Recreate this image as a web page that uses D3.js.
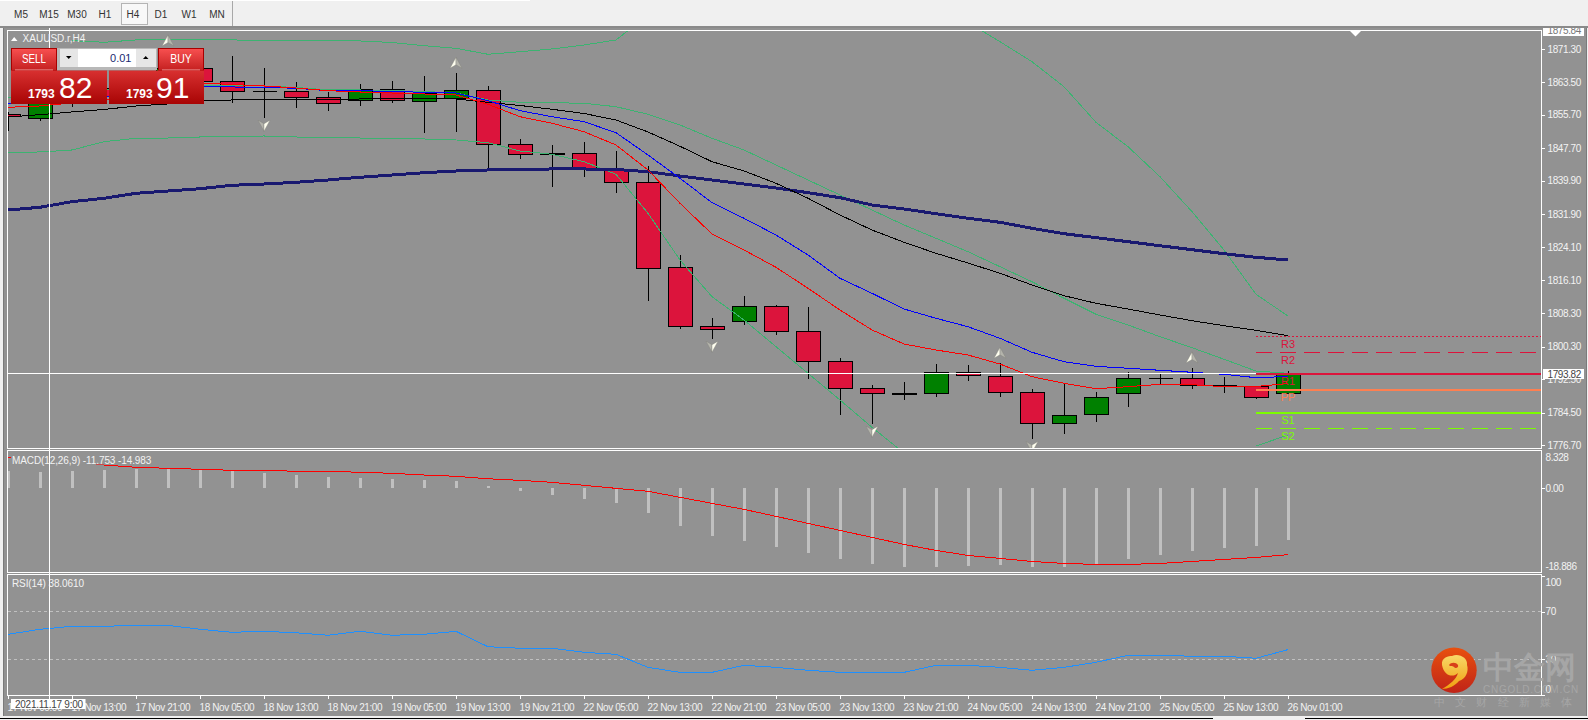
<!DOCTYPE html>
<html><head><meta charset="utf-8">
<script src="https://cdn.jsdelivr.net/npm/d3@7/dist/d3.min.js"></script>
<style>
html,body{margin:0;padding:0;background:#f0f0f0;overflow:hidden}
svg{display:block}
text{font-family:"Liberation Sans",Arial,sans-serif}
.axt text{font-size:10px;letter-spacing:-.4px;fill:#f2f2f2}
</style></head><body>
<svg id="c" width="1588" height="720"></svg>
<script>
// ---------- DATA ----------
const opens=[1855.77,1854.82,1858.5,1862,1860,1864,1866.77,1863.66,1861.27,1861.27,1859.84,1859.12,1861.75,1858.88,1859.6,1861.51,1848.61,1846.39,1846.46,1842.3,1839.53,1819.22,1805.13,1806.32,1809.91,1803.93,1796.77,1790.32,1789.13,1789.12,1794.14,1793.18,1789.36,1781.96,1784.11,1789.12,1792.71,1792.71,1790.94,1790.8,1789.12];
const highs=[1856.3,1859.2,1862.8,1863.4,1864.8,1870.9,1868.75,1869.7,1866.77,1863.42,1861.03,1863.01,1863.73,1864.93,1865.57,1862.54,1849.88,1848.44,1849.16,1847.01,1843.35,1822.16,1807.11,1812.37,1810.22,1809.74,1797.48,1791.11,1791.82,1796.12,1795.88,1796.29,1790.08,1791.34,1789.43,1794.21,1793.9,1795.17,1793.02,1790.8,1794.38];
const lows=[1851.86,1854.1,1857.5,1859,1859.2,1863,1862.78,1858.55,1854.96,1857.35,1856.64,1857.76,1858.55,1851.38,1851.55,1842.47,1845.17,1838.48,1840.87,1837.05,1811.24,1804.56,1802.17,1805.51,1803.12,1792.61,1784.01,1781.86,1787.52,1788.31,1792.13,1788.31,1778.21,1779.47,1782.34,1785.92,1791.27,1790.22,1789.27,1787.83,1789.12];
const closes=[1855.13,1858.47,1862,1860,1864,1866.77,1863.56,1861.27,1861.27,1859.84,1858.4,1861.75,1859.12,1860.63,1861.51,1848.61,1846.22,1846.19,1842.47,1839.53,1818.99,1805.13,1804.41,1809.91,1803.93,1796.77,1790.32,1789.12,1788.93,1794.14,1793.42,1789.36,1781.96,1783.87,1788.17,1792.71,1792.71,1791.03,1790.94,1788.17,1793.82];

const navyMA=[1832.91,1833.56,1834.9,1835.71,1836.9,1837.45,1838,1838.81,1839.12,1839.53,1840.08,1840.73,1841.27,1841.82,1842.23,1842.47,1842.64,1842.71,1842.71,1842.59,1842.06,1841.04,1840.08,1839.12,1838.17,1837.05,1835.85,1834.11,1833.15,1832.03,1830.93,1829.97,1828.54,1827.25,1826.3,1825.34,1824.38,1823.43,1822.47,1821.61,1820.97];
const blackMA=[1855.13,1855.68,1856.33,1856.92,1857.76,1858.24,1859.07,1859.19,1859.19,1859.19,1859.31,1859.43,1859.43,1859.43,1859.43,1858.64,1857.88,1856.97,1855.97,1854.41,1851.55,1848.13,1844.45,1842.23,1839.29,1835.71,1831.72,1828.13,1825.2,1822.57,1820.25,1817.79,1815,1812.44,1810.62,1809.26,1807.83,1806.47,1805.27,1804.17,1802.88];
const blueMA=[1858.24,1858.71,1859.19,1859.91,1860.63,1861.34,1862.3,1862.3,1862.23,1861.99,1861.41,1861.41,1861.22,1861.03,1860.86,1859.03,1856.64,1855.2,1854.01,1851.38,1846.05,1840.49,1834.66,1830.93,1826.94,1822.16,1816.6,1813.01,1809.26,1807.04,1805.03,1802.26,1798.92,1796.67,1795.57,1795.1,1794.62,1794.14,1793.66,1792.85,1793.14];
const redMA=[1857.45,1857.76,1858.48,1859.19,1859.91,1860.86,1863.25,1862.9,1862.54,1862.06,1861.41,1861.1,1860.86,1860.63,1860.39,1858.16,1855.2,1853.63,1851.62,1848.44,1842.47,1834.51,1827.18,1823.36,1819.22,1814.21,1809.02,1804.25,1800.9,1799.47,1798.27,1796.12,1793.09,1791.51,1790.22,1790.7,1791.27,1791.18,1790.7,1790.75,1791.46];
const bandUpper=[1859.67,1859.91,1861.1,1861.58,1861.58,1862.06,1862.78,1862.66,1862.54,1862.18,1861.58,1861.58,1861.41,1861.22,1860.86,1859.19,1858.64,1858.55,1858.4,1857.59,1855.78,1853.22,1850.04,1847.25,1843.66,1840.08,1836.5,1832.91,1829.33,1826.15,1822.95,1819.37,1815.78,1811.82,1808,1805.44,1802.64,1800.02,1797.25,1794.45,1793.9];
const bandLower=[1846.7,1846.77,1847.25,1849.23,1850.04,1850.11,1850.35,1850.47,1850.59,1850.35,1850.23,1850.11,1850.04,1849.88,1849.64,1848.99,1847.01,1846.22,1844.45,1841.44,1832.12,1820.97,1812.2,1806.63,1800.26,1793.9,1787.52,1781,1774.86,null,null,null,null,null,null,null,null,null,null,1776.53,1779.16];
const bandOuter=[null,null,1873.36,1872.98,1873.53,1873.53,1873.53,1873.53,1873.45,1873.41,1873.36,1873.29,1872.93,1872.16,1871.54,1870.11,1870.73,1871.38,1872.33,1873.53,1879.5,null,null,null,null,null,null,null,null,null,1877.73,1873.12,1868.34,1862.37,1853.86,1848.04,1840.87,1832.51,1823.36,1812.77,1807.59];

const macdHist=[3.76,3.54,3.83,4.05,4.28,4.28,4.05,3.83,3.38,2.93,2.48,2.25,2.03,1.8,1.58,.45,-.68,-1.58,-2.48,-3.38,-5.63,-8.56,-10.81,-11.94,-13.29,-14.64,-15.99,-17.12,-17.79,-17.79,-17.57,-17.34,-17.79,-17.79,-17.12,-15.99,-15.09,-14.19,-13.51,-13.06,-11.753];
const macdSignal=[6.98,6.53,6.08,5.18,4.66,4.44,4.21,3.99,3.99,3.76,3.76,3.54,3.31,2.93,2.64,2.09,1.73,1.28,.61,-.07,-.74,-2.09,-3.45,-4.8,-6.37,-7.95,-9.53,-11.1,-12.68,-14.03,-15.16,-15.83,-16.51,-16.96,-17.18,-17.18,-16.96,-16.51,-16.06,-15.61,-14.983];
const rsiValues=[50.9,55.1,57.6,57.6,58.4,58.4,55.1,52.6,53.4,52.2,50.1,53.4,50.1,50.9,53.4,40.5,39.2,39.2,35.8,34.1,23.2,19,19,24.9,23.2,20.7,19,19,19,24.9,24.9,23.2,20.7,23.2,27.4,33.3,33.3,32.5,32.5,30.8,38.06];

const fractalUp=[5,14,31,37];
const fractalDown=[8,22,27,32];
const pivotNames=["R3","R2","R1","PP","S1","S2"];
const pivotPrices=[1802.81,1798.92,1793.82,1789.91,1784.49,1780.76];
const pivotColors=["#dc143c","#dc143c","#dc143c","#ff7f50","#7cfc00","#7cfc00"];
const pivotDash=["2,2","16,8",null,null,null,"16,8"];
const pivotWidth=[1,1,2,2,2,1];

const priceTicks=[1871.3,1863.5,1855.7,1847.7,1839.9,1831.9,1824.1,1816.1,1808.3,1800.3,1792.5,1784.5,1776.7];
const macdTicks=[8.328,0,-18.886];
const macdTickLabels=["8.328","0.00","-18.886"];
const rsiTicks=[100,70,30,0];
const rsiLevels=[70,30];
const timeLabels=["17 Nov 05:00","17 Nov 13:00","17 Nov 21:00","18 Nov 05:00","18 Nov 13:00","18 Nov 21:00","19 Nov 05:00","19 Nov 13:00","19 Nov 21:00","22 Nov 05:00","22 Nov 13:00","22 Nov 21:00","23 Nov 05:00","23 Nov 13:00","23 Nov 21:00","24 Nov 05:00","24 Nov 13:00","24 Nov 21:00","25 Nov 05:00","25 Nov 13:00","26 Nov 01:00"];
const timeframes=["M5","M15","M30","H1","H4","D1","W1","MN"];
const currentPrice=1793.82, topPrice=1875.84, cursorIndex=1.31;

// ---------- SCALES ----------
const svg=d3.select("#c");
const L=7.5,R=1541.5;
const x=d3.scaleLinear().domain([0,40]).range([8,1288]);
const yP=d3.scaleLinear().domain([1776.7,1871.3]).range([445.3,49.3]);
const yM=d3.scaleLinear().domain([8.328,-18.886]).range([451,572]);
const yR=d3.scaleLinear().domain([0,100]).range([695,575.75]);
const crisp=v=>Math.round(v-.5)+.5;

// ---------- FRAME ----------
svg.append("rect").attr("width",1588).attr("height",720).attr("fill","#f0f0f0");
svg.append("rect").attr("x",4).attr("y",28).attr("width",1582).attr("height",688).attr("fill","#929292");
svg.append("rect").attr("x",3).attr("y",28).attr("width",1).attr("height",688).attr("fill","#7a7a7a");
svg.append("rect").attr("x",1586).attr("y",28).attr("width",1).attr("height",688).attr("fill","#7a7a7a");
svg.append("rect").attr("y",0).attr("width",530).attr("height",1).attr("fill","#fff");
const defs=svg.append("defs");
[["cMain",30,418],["cMacd",451,121],["cRsi",575,120]].forEach(([id,t,h])=>
  defs.append("clipPath").attr("id",id).append("rect").attr("x",8).attr("y",t).attr("width",1533).attr("height",h));
function grad(id,stops){const g=defs.append("linearGradient").attr("id",id).attr("x1",0).attr("y1",0).attr("x2",0).attr("y2",1);
  stops.forEach(([o,c])=>g.append("stop").attr("offset",o).attr("stop-color",c));}
grad("gBtn",[[0,"#f85050"],[1,"#c42020"]]);
grad("gPrice",[[0,"#d83030"],[1,"#a80404"]]);
grad("gLogo",[[0,"#e8500f"],[1,"#c02418"]]);
grad("gSwirl",[[0,"#f8d868"],[1,"#f0a010"]]);

// ---------- MAIN PANEL ----------
const main=svg.append("g").attr("clip-path","url(#cMain)");
const idx=d3.range(opens.length);
const candle=main.append("g").attr("shape-rendering","crispEdges");
candle.selectAll("line").data(idx).join("line")
 .attr("x1",i=>x(i)+.5).attr("x2",i=>x(i)+.5)
 .attr("y1",i=>yP(highs[i])).attr("y2",i=>yP(lows[i])).attr("stroke","#000");
candle.selectAll("path").data(idx).join("path")
 .attr("d",i=>{const a=crisp(yP(Math.max(opens[i],closes[i]))),b=crisp(yP(Math.min(opens[i],closes[i])));
   return `M${x(i)-11.5},${a}H${x(i)+12.5}V${b}H${x(i)-11.5}Z`;})
 .attr("fill",i=>closes[i]>=opens[i]?"#008000":"#dc143c").attr("stroke","#000");

const line=d3.line().defined(d=>d!=null).x((d,i)=>x(i)).y(d=>yP(d));
[[bandOuter,"#3cb371",1],[bandUpper,"#3cb371",1],[bandLower,"#3cb371",1],[navyMA,"#191970",3],[blackMA,"#000",1],[blueMA,"#0000ff",1],[redMA,"#ff0000",1]]
 .forEach(([d,c,w])=>main.append("path").attr("d",line(d)).attr("fill","none").attr("stroke",c).attr("stroke-width",w).attr("shape-rendering","crispEdges"));

// fractal arrows
function arrow(g,i,yy,up){const s=up?1:-1,cx=x(i);
  const a=g.append("g").attr("transform",`translate(${cx},${yy}) scale(1,${s})`);
  a.append("path").attr("d","M0,-6L-6,5L0,1.5Z").attr("fill",up?"#fffff0":"#b4b4ac").attr("stroke","#808078").attr("stroke-width",.4);
  a.append("path").attr("d","M0,-6L6,5L0,1.5Z").attr("fill",up?"#b4b4ac":"#fffff0").attr("stroke","#808078").attr("stroke-width",.4);}
fractalUp.forEach(i=>arrow(main,i,yP(highs[i])-10,true));
fractalDown.forEach(i=>arrow(main,i,yP(lows[i])+7.5,false));

// pivots
pivotNames.forEach((n,k)=>{const v=yP(pivotPrices[k]),yy=pivotWidth[k]==2?Math.round(v):crisp(v);
  main.append("line").attr("x1",x(39)).attr("x2",R).attr("y1",yy).attr("y2",yy)
   .attr("stroke",pivotColors[k]).attr("stroke-width",pivotWidth[k]).attr("stroke-dasharray",pivotDash[k]).attr("shape-rendering","crispEdges");
  main.append("text").attr("x",x(40)).attr("y",yy+11).attr("text-anchor","middle").attr("font-size",11)
   .attr("fill",pivotColors[k]).text(n);});

// ---------- MACD ----------
const macd=svg.append("g").attr("clip-path","url(#cMacd)");
macd.selectAll("rect").data(macdHist).join("rect")
 .attr("x",(d,i)=>x(i)-1).attr("width",3).attr("y",d=>Math.min(yM(d),yM(0))).attr("height",d=>Math.abs(yM(d)-yM(0)))
 .attr("fill","#c0c0c0").attr("shape-rendering","crispEdges");
macd.append("path").attr("d",d3.line().x((d,i)=>x(i)).y(d=>yM(d))(macdSignal)).attr("fill","none").attr("stroke","#ff0000").attr("shape-rendering","crispEdges");
svg.append("rect").attr("x",11).attr("y",455).attr("width",135).attr("height",9.5).attr("fill","#929292");
svg.append("text").attr("x",12).attr("y",463.5).attr("font-size",10).attr("letter-spacing","-.1").attr("fill","#f2f2f2").text("MACD(12,26,9) -11.753 -14.983");

// ---------- RSI ----------
const rsi=svg.append("g").attr("clip-path","url(#cRsi)");
rsiLevels.forEach(v=>rsi.append("line").attr("x1",8).attr("x2",R).attr("y1",crisp(yR(v))).attr("y2",crisp(yR(v)))
  .attr("stroke","#c0c0c0").attr("stroke-dasharray","3,3").attr("shape-rendering","crispEdges"));
rsi.append("path").attr("d",d3.line().x((d,i)=>x(i)).y(d=>yR(d))(rsiValues)).attr("fill","none").attr("stroke","#1e90ff").attr("shape-rendering","crispEdges");
svg.append("text").attr("x",12).attr("y",586.8).attr("font-size",10).attr("letter-spacing","-.1").attr("fill","#f2f2f2").text("RSI(14) 38.0610");

// ---------- BORDERS ----------
const border=svg.append("g").attr("stroke","#fff").attr("fill","none").attr("shape-rendering","crispEdges");
[[30.5,448.5],[450.5,572.5],[574.5,695.5]].forEach(([t,b])=>border.append("rect").attr("x",L).attr("y",t).attr("width",R-L).attr("height",b-t));

// ---------- AXES ----------
function styleAxis(g){g.attr("class","axt");g.select(".domain").remove();g.selectAll("line").attr("stroke","#fff").attr("shape-rendering","crispEdges");}
const ap=svg.append("g").attr("transform",`translate(${R},0)`).call(d3.axisRight(yP).tickValues(priceTicks).tickSize(3).tickPadding(3).tickFormat(d3.format(".2f")));
styleAxis(ap);
const am=svg.append("g").attr("transform",`translate(${R},0)`).call(d3.axisRight(yM).tickValues(macdTicks).tickSize(3).tickPadding(1).tickFormat((d,i)=>macdTickLabels[i]));
styleAxis(am);
am.selectAll("text").attr("dy",(d,i)=>i==0?"0.95em":i==2?"-0.25em":"0.32em");
am.selectAll("line").filter((d,i)=>i!=1).remove();
const ar=svg.append("g").attr("transform",`translate(${R},0)`).call(d3.axisRight(yR).tickValues(rsiTicks).tickSize(3).tickPadding(1));
styleAxis(ar);
ar.selectAll("text").attr("dy",d=>d==100?"0.95em":d==0?"-0.3em":"0.32em");
const ax=svg.append("g").attr("transform","translate(0,695.5)").call(d3.axisBottom(x).tickValues(d3.range(0,41,2)).tickSize(3).tickPadding(5).tickFormat((d,i)=>timeLabels[i]));
styleAxis(ax);
ax.selectAll("text").attr("text-anchor","start").attr("x",-1).attr("letter-spacing","-.1");

// ---------- CROSSHAIR ----------
const cross=svg.append("g").attr("stroke","#fff").attr("shape-rendering","crispEdges");
cross.append("line").attr("x1",crisp(x(cursorIndex))).attr("x2",crisp(x(cursorIndex))).attr("y1",28).attr("y2",699);
cross.append("line").attr("x1",L).attr("x2",x(39)).attr("y1",crisp(yP(currentPrice))).attr("y2",crisp(yP(currentPrice)));
svg.append("rect").attr("x",11).attr("y",699).attr("width",74.5).attr("height",10).attr("fill","#fff");
svg.append("text").attr("x",15).attr("y",708).attr("font-size",10).attr("letter-spacing","-.25").attr("fill","#444").text("2021.11.17 9:00");
svg.append("rect").attr("x",1543).attr("y",369).attr("width",41).attr("height",10).attr("fill","#fff");
svg.append("text").attr("x",1547.5).attr("y",378).attr("font-size",10).attr("letter-spacing","-.4").attr("fill","#444").text(d3.format(".2f")(currentPrice));
svg.append("rect").attr("x",1543).attr("y",28).attr("width",41).attr("height",8).attr("fill","#fff");
svg.append("text").attr("x",1547.5).attr("y",34).attr("font-size",10).attr("letter-spacing","-.4").attr("fill","#777").text(d3.format(".2f")(topPrice));
svg.append("path").attr("d","M1350,31H1361L1355.5,36.5Z").attr("fill","#fff");

// symbol label
svg.append("path").attr("d","M11,41L14.2,37L17.5,41Z").attr("fill","#fff");
svg.append("text").attr("x",22.6).attr("y",42).attr("font-size",10).attr("fill","#f2f2f2").text("XAUUSD.r,H4");

// ---------- TRADE PANEL ----------
const tp=svg.append("g");
tp.append("rect").attr("x",57).attr("y",48).attr("width",100).attr("height",22).attr("fill","#b8b8b8");
tp.append("rect").attr("x",60).attr("y",49).attr("width",18).attr("height",18).attr("fill","#e6e6e6");
tp.append("rect").attr("x",78).attr("y",49).attr("width",58).attr("height",18).attr("fill","#fff");
tp.append("rect").attr("x",136).attr("y",49).attr("width",20).attr("height",18).attr("fill","#e6e6e6");
tp.append("path").attr("d","M66,56H71.5L68.7,59Z").attr("fill","#000");
tp.append("path").attr("d","M143,59H148.5L145.7,56Z").attr("fill","#000");
tp.append("text").attr("x",131.5).attr("y",62).attr("text-anchor","end").attr("font-size",11).attr("fill","#1a2a70").text("0.01");
[[11,46,"SELL",24],[158,46,"BUY",21.5]].forEach(([xx,w,t,tl])=>{
 tp.append("rect").attr("x",xx+.5).attr("y",48.5).attr("width",w-1).attr("height",22).attr("fill","url(#gBtn)").attr("stroke","#a80000");
 tp.append("text").attr("x",xx+w/2).attr("y",63).attr("text-anchor","middle").attr("font-size",13).attr("textLength",tl).attr("lengthAdjust","spacingAndGlyphs").attr("fill","#fff").text(t);
 tp.append("line").attr("x1",xx+4).attr("x2",xx+w-4).attr("y1",70).attr("y2",70).attr("stroke","#f0a0a0");
});
[[11,96,"1793","82",28,59],[109,95,"1793","91",126,156]].forEach(([xx,w,a,b,xa,xb])=>{
 tp.append("rect").attr("x",xx).attr("y",70.5).attr("width",w).attr("height",33.5).attr("fill","url(#gPrice)");
 tp.append("text").attr("x",xa).attr("y",98).attr("font-size",12).attr("font-weight","bold").attr("fill","#fff").text(a);
 tp.append("text").attr("x",xb).attr("y",97.5).attr("font-size",30).attr("fill","#fff").text(b);
});

// ---------- TOOLBAR ----------
const tb=svg.append("g");
tb.append("rect").attr("y",26).attr("width",1588).attr("height",2).attr("fill","#8a8a8a");
tb.append("rect").attr("x",121.5).attr("y",3.5).attr("width",26).attr("height",21).attr("fill","#f8f8f8").attr("stroke","#b4b4b4");
tb.append("line").attr("x1",232.5).attr("x2",232.5).attr("y1",1).attr("y2",26).attr("stroke","#a8a8a8");
const tfX=d3.scalePoint().domain(timeframes).range([21,217]);
tb.selectAll("text").data(timeframes).join("text").attr("x",d=>tfX(d)).attr("y",18).attr("text-anchor","middle")
 .attr("font-size",10).attr("fill","#333").text(d=>d);

// ---------- BOTTOM TABS ----------
svg.append("rect").attr("y",716).attr("width",1588).attr("height",4).attr("fill","#f0f0f0");
svg.append("rect").attr("y",718).attr("width",1213).attr("height",1).attr("fill","#000");
svg.append("rect").attr("x",1305).attr("y",718).attr("width",283).attr("height",1).attr("fill","#000");

// ---------- WATERMARK ----------
const wm=svg.append("g");
wm.append("circle").attr("cx",1454).attr("cy",670.3).attr("r",22.7).attr("fill","url(#gLogo)");
wm.append("path").attr("d","M1442,665C1441,657 1449,656 1452,656C1459,653 1468,658 1467,665C1469,671 1466,679 1459,681C1455,686 1448,689 1442,689C1450,684 1456,680 1458,673C1453,678 1444,676 1442,665Z").attr("fill","url(#gSwirl)");
wm.append("path").attr("d","M1449,665C1451,662 1456,662 1458,665C1459,668 1455,669 1454,667C1452,665 1450,667 1449,665Z").attr("fill","#d8401a");
const wmCol="#a6a6a6";
wm.append("text").attr("x",1482.5).attr("y",678).attr("font-family","Noto Sans CJK SC").attr("font-weight","bold").attr("font-size",30.5).attr("fill",wmCol).text("中金网");
wm.append("text").attr("x",1483).attr("y",692.5).attr("font-size",10).attr("letter-spacing",".75").attr("fill",wmCol).text("CNGOLD.COM.CN");
wm.append("text").attr("x",1434).attr("y",706).attr("font-family","Noto Sans CJK SC").attr("font-size",11).attr("letter-spacing","10.2").attr("fill",wmCol).text("中文财经新媒体");
</script></body></html>
